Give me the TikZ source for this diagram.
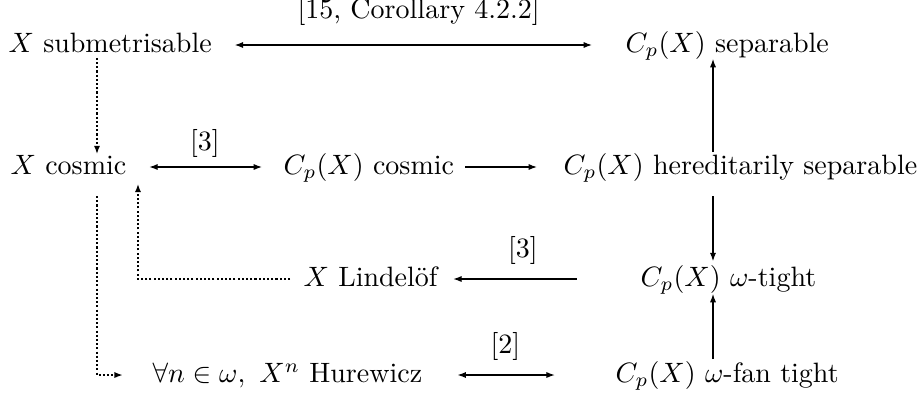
\documentclass[tikz,border=0pt]{standalone}
\usepackage{amsmath,amssymb}
\usetikzlibrary{arrows.meta,positioning,calc}

\begin{document}
\begin{tikzpicture}[
    x=0.357pt,y=-0.357pt,
    stmt/.style={anchor=west,inner sep=0pt,text height=1.5ex,text depth=.25ex},
    arr/.style={-{Latex[length=3pt,width=2.2pt]}},
    biarr/.style={{Latex[length=3pt,width=2.2pt]}-{Latex[length=3pt,width=2.2pt]}},
    dotarr/.style={-{Latex[length=3pt,width=2.2pt]},dash pattern=on .75pt off .75pt,line width=0.75pt}
  ]
  \useasboundingbox (0,0) rectangle (922,395);
  \node[stmt] (sm) at (8,45) {$X$ submetrisable};
  \node[stmt] (sep) at (625,45) {$C_p(X)$ separable};
  \node[stmt] (cx) at (10,167) {$X$ cosmic};
  \node[stmt] (cpc) at (283,167) {$C_p(X)$ cosmic};
  \node[stmt] (hs) at (563,167) {$C_p(X)$ hereditarily separable};
  \node[stmt] (lin) at (303,279) {$X$ Lindelöf};
  \node[stmt] (wt) at (640,279) {$C_p(X)$ $\omega$-tight};
  \node[stmt] (hur) at (152,375) {$\forall n\in\omega,\ X^n$ Hurewicz};
  \node[stmt] (wft) at (615,375) {$C_p(X)$ $\omega$-fan tight};
  \coordinate (lc) at (97,0);
  \coordinate (mc) at (138,0);
  \coordinate (rc) at (713,0);
  \draw[biarr,shorten <=8pt,shorten >=11.8pt] (sm) -- node[above=3.5pt] {[15, Corollary 4.2.2]} (sep);
  \draw[biarr,shorten <=8pt,shorten >=7.5pt] (cx) -- node[above] {[3]} (cpc);
  \draw[arr,shorten <=3.8pt,shorten >=9.3pt] (cpc) -- (hs);
  \draw[arr,shorten <=22.5pt,shorten >=5.4pt] (wt) -- node[above=1.5pt,pos=0.58] {[3]} (lin);
  \draw[biarr,shorten <=12.4pt,shorten >=21.5pt] (hur) -- node[above=1.5pt,pos=0.43] {[2]} (wft);
  \draw[arr,shorten <=1.35pt,shorten >=1pt] (hs.north -| rc) -- (sep.south -| rc);
  \draw[arr,shorten <=6.4pt,shorten >=2.4pt] (hs.south -| rc) -- (wt.north -| rc);
  \draw[arr,shorten <=1.7pt,shorten >=1.35pt] (wft.north -| rc) -- (wt.south -| rc);
  \draw[dotarr,shorten <=0.6pt,shorten >=0.6pt] (sm.south -| lc) -- (cx.north -| lc);
  \draw[dotarr,shorten <=6.4pt,shorten >=10.4pt] (cx.south -| lc) |- (hur.west);
  \draw[dotarr,shorten <=4.6pt,shorten >=2pt] (lin.west) -| (cx.south -| mc);
\end{tikzpicture}
\end{document}
